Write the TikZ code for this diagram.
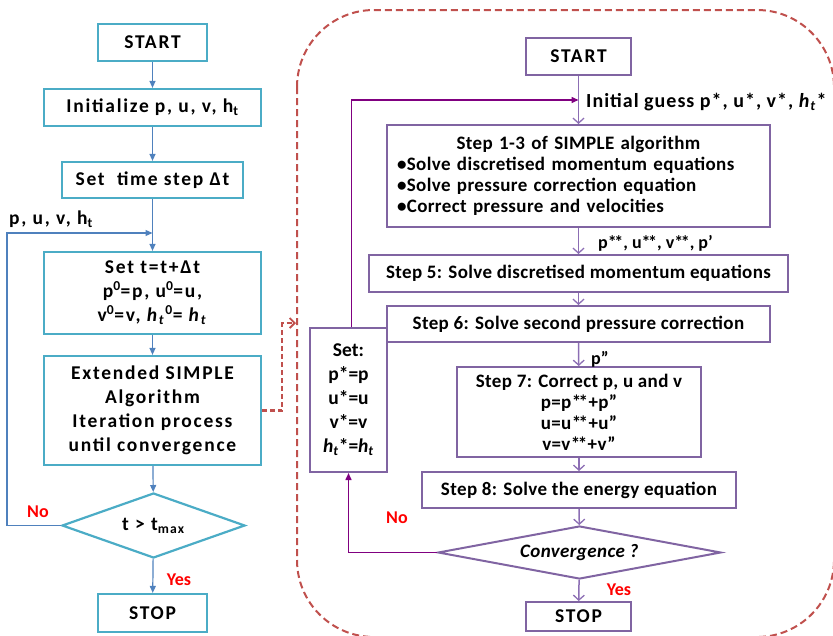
\documentclass[tikz,border=0pt]{standalone}
\usepackage{fontspec}
\setmainfont{Carlito}
\usetikzlibrary{shapes.geometric,arrows.meta}
\definecolor{cyanb}{RGB}{75,172,198}
\definecolor{bluea}{RGB}{79,129,189}
\definecolor{purp}{RGB}{128,100,162}
\definecolor{purpa}{RGB}{140,110,180}
\definecolor{mag}{RGB}{128,0,128}
\definecolor{dred}{RGB}{192,80,77}
\newcommand\lfont{\fontsize{19.5}{24}\selectfont\bfseries\addfontfeature{LetterSpace=9}}
\newcommand\rfont{\fontsize{19}{21}\selectfont\bfseries\addfontfeature{LetterSpace=2}}
\newcommand\hti{\textit{h}\textsubscript{\textit{t}}}
\newcommand\dst{*\kern-2.5pt*}
\begin{document}
\begin{tikzpicture}[x=1pt,y=-1pt,
  lb/.style={draw=cyanb, line width=2.2pt, inner sep=0pt, align=center, font=\lfont},
  rb/.style={draw=purp, line width=2pt, inner sep=0pt, align=center, font=\rfont},
  la/.style={-{Triangle[length=7pt,width=6pt]}, draw=bluea, line width=1.2pt},
  ra/.style={-{Straight Barb[length=5pt,width=11pt,line width=1.3pt]}, draw=purpa, line width=1.5pt},
  ma/.style={-{Triangle[length=7pt,width=6pt]}, draw=mag, line width=1.5pt},
  lbl/.style={font=\fontsize{18}{21}\selectfont\bfseries, inner sep=0pt},
  redl/.style={font=\fontsize{18}{20}\selectfont\bfseries, text=red, inner sep=0pt}]
\useasboundingbox (0,0) rectangle (833,635);
\clip (0,0) rectangle (833,635);
% dashed frame
\draw[dred, line width=2pt, dash pattern=on 7pt off 4pt, rounded corners=77pt] (297,10) rectangle (834,637);
% left column
\node[lb, minimum width=109pt, minimum height=37pt] (lstart) at (152.5,42.5) {START};
\node[lb, minimum width=217pt, minimum height=37pt] (linit) at (152.5,107.5) {Initialize p, u, v, h\textsubscript{t}};
\node[lb, minimum width=181pt, minimum height=36pt] (lstep) at (152.5,180) {Set\ \ time step Δt};
\node[lb, minimum width=217pt, minimum height=82pt] (lset) at (152.5,293) {Set t=t+Δt\\ p\textsuperscript{0}=p, u\textsuperscript{0}=u,\\ v\textsuperscript{0}=v, \hti\textsuperscript{0}= \hti};
\node[lb, minimum width=217pt, minimum height=109pt] (lext) at (152.5,410.5) {Extended SIMPLE\\ Algorithm\\ Iteration process\\ until convergence};
\node[lb, diamond, shape aspect=2.8, minimum width=183pt, minimum height=65pt] (ldia) at (153.5,525.5) {t > t\textsubscript{max}};
\node[lb, minimum width=109pt, minimum height=38pt] (lstop) at (152.5,613) {STOP};
\coordinate (lj) at (152.5,233);
\draw[la] (lstart) -- (linit);
\draw[la] (linit) -- (lstep);
\draw[la] (lstep) -- (lset);
\draw[la] (lset) -- (lext);
\draw[la] (lext) -- (ldia);
\draw[la] (ldia) -- (lstop);
\draw[la] (ldia.west) -- ++(-54,0) |- (lj);
\node[font=\lfont, inner sep=0pt, anchor=west] (pl) at (9,219) {p, u, v, h\textsubscript{t}};
\node[redl] (lno) at (38,512) {No};
\node[redl] (lyes) at (179,580) {Yes};
% dashed link
\coordinate (dj) at (296,323);
\draw[dred, line width=2.2pt, dash pattern=on 5pt off 3pt, -{Straight Barb[length=5pt,width=10pt,line width=1.8pt]}] (lext.east) -- ++(20,0) |- (dj);
% right column
\node[rb, font=\lfont, minimum width=105pt, minimum height=37pt] (rstart) at (578.5,56.5) {START};
\node[rb, minimum width=383pt, minimum height=102pt, text width=363pt, align=left] (r13) at (578.5,176) {\makebox[363pt]{Step 1-3 of SIMPLE algorithm}\\ •Solve discretised momentum equations\\ •Solve pressure correction equation\\ •Correct pressure and velocities};
\node[rb, minimum width=419pt, minimum height=37pt] (r5) at (578.5,273.5) {Step 5: Solve discretised momentum equations};
\node[rb, minimum width=383pt, minimum height=36pt] (r6) at (578.5,324) {Step 6: Solve second pressure correction};
\node[rb, minimum width=244pt, minimum height=90pt] (r7) at (579,412) {Step 7: Correct p, u and v\\ p=p\dst+p”\\ u=u\dst+u”\\ v=v\dst+v”};
\node[rb, minimum width=314pt, minimum height=36pt] (r8) at (579,490) {Step 8: Solve the energy equation};
\node[rb, diamond, shape aspect=5, minimum width=283pt, minimum height=53pt] (rdia) at (579.5,552.5) {\textit{Convergence ?}};
\node[rb, font=\lfont, minimum width=105pt, minimum height=29pt] (rstop) at (578.5,616.5) {STOP};
\node[rb, font=\fontsize{19.5}{24}\selectfont\bfseries, minimum width=77pt, minimum height=144pt] (rset) at (348.5,400) {Set:\\ p*=p\\ u*=u\\ v*=v\\ \hti*=\hti};
\coordinate (rj) at (578.5,100);
\draw[ra] (rstart) -- (r13);
\draw[ra] (r13) -- (r5);
\draw[ra] (r5) -- (r6);
\draw[ra] (r6) -- (r7);
\draw[ra] (r7) -- (r8);
\draw[ra] (r8) -- (rdia);
\draw[ra] (rdia) -- (rstop);
\draw[ma] ([xshift=3pt]rset.north) |- (rj);
\draw[ma] (rdia.west) -| (rset.south);
\node[font=\fontsize{20}{22}\selectfont\bfseries\addfontfeature{LetterSpace=5}, inner sep=0pt, anchor=west] (ig) at (586,102) {Initial guess p*, u*, v*, \hti*};
\node[lbl, anchor=west] (pss) at (598,243) {p\dst, u\dst, v\dst, p’};
\node[lbl, anchor=west] (pdd) at (591,359) {p”};
\node[redl] (rno) at (397,518) {No};
\node[redl] (ryes) at (619,590) {Yes};
\end{tikzpicture}
\end{document}
